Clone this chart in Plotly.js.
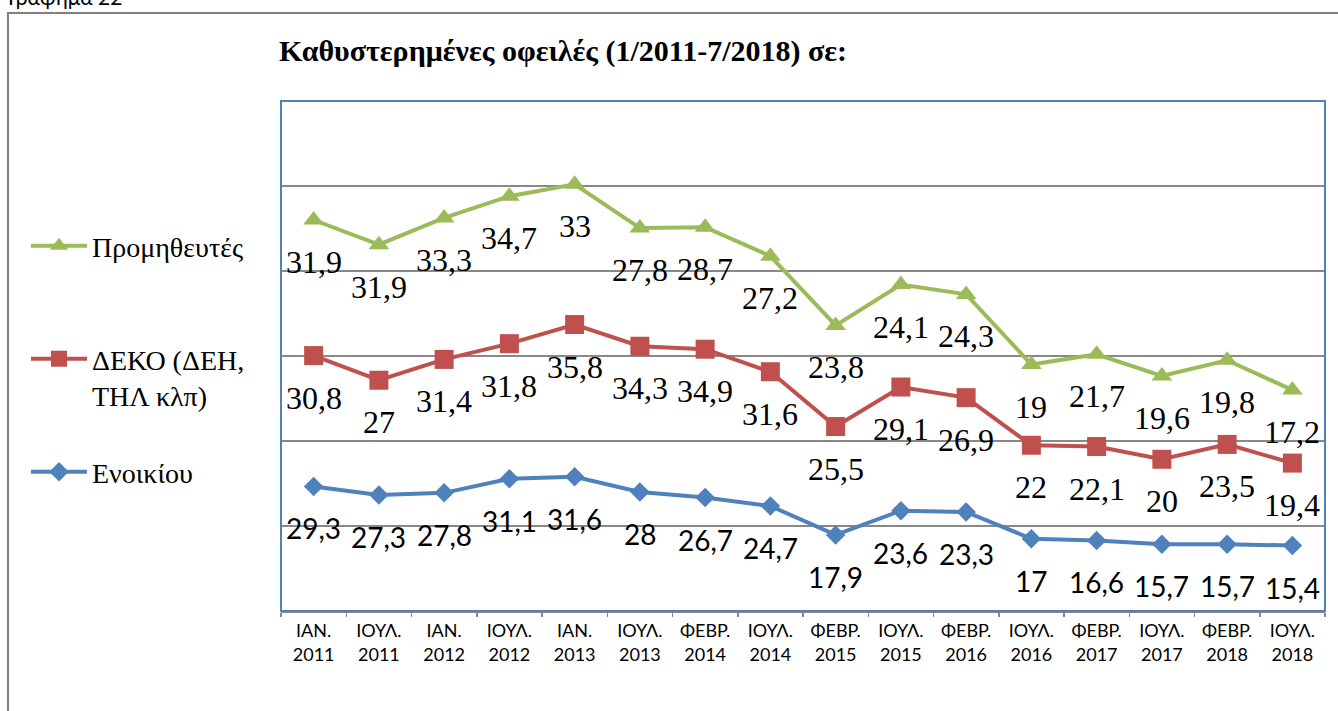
<!DOCTYPE html>
<html>
<head>
<meta charset="utf-8">
<script src="https://cdn.plot.ly/plotly-3.0.1.min.js"></script>
<style>
html,body{margin:0;padding:0;background:#ffffff;}
#chart{width:1338px;height:711px;}
</style>
</head>
<body>
<div id="chart"></div>
<script>
// ---- data ----
const categories = [
  'ΙΑΝ.<br>2011','ΙΟΥΛ.<br>2011','ΙΑΝ.<br>2012','ΙΟΥΛ.<br>2012',
  'ΙΑΝ.<br>2013','ΙΟΥΛ.<br>2013','ΦΕΒΡ.<br>2014','ΙΟΥΛ.<br>2014',
  'ΦΕΒΡ.<br>2015','ΙΟΥΛ.<br>2015','ΦΕΒΡ.<br>2016','ΙΟΥΛ.<br>2016',
  'ΦΕΒΡ.<br>2017','ΙΟΥΛ.<br>2017','ΦΕΒΡ.<br>2018','ΙΟΥΛ.<br>2018'
];
const enoikiou = [29.3,27.3,27.8,31.1,31.6,28,26.7,24.7,17.9,23.6,23.3,17,16.6,15.7,15.7,15.4];
const deko = [30.8,27,31.4,31.8,35.8,34.3,34.9,31.6,25.5,29.1,26.9,22,22.1,20,23.5,19.4];
const promitheftes = [31.9,31.9,33.3,34.7,33,27.8,28.7,27.2,23.8,24.1,24.3,19,21.7,19.6,19.8,17.2];
const nameEnoikiou = 'Ενοικίου';
const nameDeko = 'ΔΕΚΟ (ΔΕΗ,<br>ΤΗΛ κλπ)';
const namePromitheftes = 'Προμηθευτές';
const chartTitle = 'Καθυστερημένες οφειλές (1/2011-7/2018) σε:';
const captionText = 'Γράφημα 22';

// ---- styles ----
const cBlue = '#4F81BD', cRed = '#C0504D', cGreen = '#9BBB59';
const serif = 'Liberation Serif, serif';
const sans = 'Lato, Open Sans, sans-serif';
const fmt = v => String(v).replace('.', ',');

const seriesDefs = [
  {name: nameEnoikiou, vals: enoikiou, color: cBlue, symbol: 'diamond', size: 15, legend: 'legend3', labelFont: {family: sans, size: 28, color: '#000'}},
  {name: nameDeko, vals: deko, color: cRed, symbol: 'square', size: 19, legend: 'legend2', labelFont: {family: serif, size: 32, color: '#000'}},
  {name: namePromitheftes, vals: promitheftes, color: cGreen, symbol: 'triangle-up', size: 18, legend: 'legend', labelFont: {family: serif, size: 32, color: '#000'}}
];

const traces = seriesDefs.map(s => ({
  type: 'scatter', mode: 'lines+markers', x: categories, y: s.vals, name: s.name,
  stackgroup: 'one', fill: 'none', legend: s.legend,
  line: {color: s.color, width: 4},
  marker: {color: s.color, symbol: s.symbol, size: s.size, line: {width: 0}},
  hoverinfo: 'x+y+name'
}));

const W = 1338, H = 711, L = 281, R = 13, T = 101, B = 100;
const pw = W - L - R, ph = H - T - B;
const px2x = p => (p - L) / pw;
const py2y = p => (H - B - p) / ph;

// data labels below each point (stacked positions)
const annotations = [];
const cum = categories.map(() => 0);
seriesDefs.forEach(s => {
  s.vals.forEach((v, i) => {
    cum[i] += v;
    annotations.push({
      x: categories[i], y: cum[i], xref: 'x', yref: 'y', text: fmt(v), showarrow: false,
      yshift: -42, font: s.labelFont
    });
  });
});
annotations.push({
  text: captionText, xref: 'paper', yref: 'paper', x: px2x(6), xanchor: 'left',
  y: py2y(-4), yanchor: 'middle', showarrow: false, font: {family: sans, size: 21, color: '#000'}
});

const legendFont = {family: serif, size: 28, color: '#000'};
const legendBase = {xref: 'container', yref: 'container', x: 26/1338, xanchor: 'left', yanchor: 'middle',
  bgcolor: 'rgba(0,0,0,0)', borderwidth: 0, font: legendFont, valign: 'top', itemwidth: 56};

const layout = {
  width: W, height: H,
  margin: {l: L, r: R, t: T, b: B, pad: 0},
  paper_bgcolor: '#ffffff', plot_bgcolor: '#ffffff',
  showlegend: true,
  title: {text: '<b>' + chartTitle + '</b>', font: {family: serif, size: 30, color: '#000'},
    xref: 'container', yref: 'container', x: 563/1338, xanchor: 'center', y: 1 - 50/711, yanchor: 'middle'},
  xaxis: {
    type: 'category', range: [-0.5, categories.length - 0.5], showgrid: false, zeroline: false,
    showline: true, linecolor: '#888888', linewidth: 1.5,
    ticks: 'outside', tickson: 'boundaries', ticklen: 4, tickcolor: '#888888', tickwidth: 1.5,
    ticklabelstandoff: 3,
    tickfont: {family: sans, size: 18, color: '#000'}, tickangle: 0, automargin: false
  },
  yaxis: {
    range: [0, 120], dtick: 20, showticklabels: false, showgrid: true, gridcolor: '#888888', gridwidth: 1.5,
    zeroline: false, showline: false, ticks: '', automargin: false
  },
  legend: Object.assign({}, legendBase, {y: 1 - 246/711}),
  legend2: Object.assign({}, legendBase, {y: 1 - 377/711}),
  legend3: Object.assign({}, legendBase, {y: 1 - 472/711}),
  annotations: annotations,
  shapes: [
    {type: 'rect', xref: 'paper', yref: 'paper', x0: 0, x1: 1, y0: 0, y1: 1,
      line: {color: cBlue, width: 2}, layer: 'above'},
    {type: 'rect', xref: 'paper', yref: 'paper', x0: px2x(8), x1: px2x(1345), y0: py2y(720), y1: py2y(13),
      line: {color: '#808080', width: 2}, layer: 'above'}
  ]
};

Plotly.newPlot('chart', traces, layout, {displayModeBar: false, staticPlot: true});
</script>
</body>
</html>
